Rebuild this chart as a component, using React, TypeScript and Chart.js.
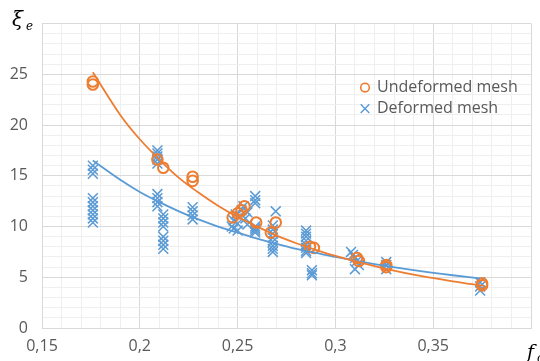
import React, { useEffect, useRef } from "react";
import { Chart, registerables } from "chart.js";

Chart.register(...registerables);

// ---- data ----
const undeformedX = [
  0.176, 0.176, 0.209, 0.212, 0.227, 0.227, 0.2475, 0.25, 0.252, 0.2535,
  0.2595, 0.267, 0.2695, 0.287, 0.289, 0.311, 0.312, 0.326, 0.326, 0.375, 0.375,
];
const undeformedY = [
  24.3, 24.0, 16.6, 15.8, 14.9, 14.5, 10.9, 11.3, 11.6, 12.0,
  10.4, 9.4, 10.4, 8.0, 7.9, 6.9, 6.6, 6.2, 6.0, 4.4, 4.2,
];

const deformedX = [
  0.176, 0.176, 0.176, 0.176, 0.176, 0.176, 0.176, 0.176, 0.176, 0.176,
  0.209, 0.209, 0.209, 0.209, 0.209, 0.209, 0.209, 0.209, 0.209,
  0.212, 0.212, 0.212, 0.212, 0.212, 0.212, 0.212, 0.212,
  0.227, 0.227, 0.227, 0.227,
  0.247, 0.248, 0.249, 0.25, 0.25, 0.251, 0.252, 0.253, 0.254, 0.255, 0.255, 0.248,
  0.259, 0.259, 0.259, 0.259, 0.259, 0.259, 0.259,
  0.2695, 0.268, 0.268, 0.268, 0.268, 0.268, 0.268, 0.268, 0.268,
  0.285, 0.285, 0.285, 0.285, 0.285, 0.285, 0.285, 0.285,
  0.288, 0.288, 0.288,
  0.308, 0.309, 0.31, 0.311, 0.312, 0.31,
  0.326, 0.326, 0.326,
  0.374, 0.374, 0.374,
];
const deformedY = [
  16.0, 15.6, 15.2, 12.8, 12.4, 12.0, 11.6, 11.2, 10.8, 10.4,
  17.5, 17.2, 16.9, 16.6, 16.2, 13.2, 12.8, 12.4, 12.0,
  11.2, 10.8, 10.4, 10.0, 9.0, 8.6, 8.2, 7.8,
  11.9, 11.5, 11.1, 10.7,
  10.0, 10.6, 11.2, 9.6, 10.3, 11.0, 11.6, 12.0, 10.8, 10.2, 11.4, 9.8,
  13.0, 12.6, 12.3, 10.0, 9.8, 9.6, 9.4,
  11.5, 10.1, 9.7, 9.3, 8.9, 8.5, 8.1, 7.8, 7.5,
  9.6, 9.3, 9.0, 8.6, 8.2, 7.9, 7.6, 7.4,
  5.7, 5.4, 5.2,
  7.5, 7.2, 6.9, 6.6, 6.2, 5.8,
  6.5, 6.2, 5.8,
  4.5, 4.1, 3.7,
];

// trendlines (power-law fits in the original)
const trendUndeformedX = [0.176, 0.19, 0.2, 0.21, 0.22, 0.23, 0.24, 0.25, 0.26, 0.27, 0.28, 0.29, 0.3, 0.32, 0.34, 0.36, 0.376];
const trendUndeformedY = [25.2, 21.0, 18.6, 16.6, 14.8, 13.35, 12.05, 10.95, 10.0, 9.1, 8.35, 7.7, 7.1, 6.1, 5.25, 4.6, 4.15];
const trendDeformedX = [0.176, 0.19, 0.2, 0.21, 0.22, 0.23, 0.24, 0.25, 0.26, 0.27, 0.28, 0.29, 0.3, 0.32, 0.34, 0.36, 0.374];
const trendDeformedY = [16.5, 14.6, 13.4, 12.4, 11.5, 10.7, 10.0, 9.4, 8.8, 8.3, 7.8, 7.4, 7.0, 6.3, 5.7, 5.2, 4.9];

const legendLabels = ["Undeformed mesh", "Deformed mesh"];
const yTitle = ["ξ", "e"];
const xTitle = ["f", "c"];

const ORANGE = "#ED7D31";
const BLUE = "#5B9BD5";
const TEXT = "#595959";

const zip = (xs: number[], ys: number[]) => xs.map((x, i) => ({ x, y: ys[i] }));

const overlayPlugin = {
  id: "overlay",
  afterDraw(chart: any) {
    const ctx = chart.ctx as CanvasRenderingContext2D;
    const area = chart.chartArea;
    ctx.save();
    // axis titles
    ctx.fillStyle = "#000";
    ctx.textBaseline = "alphabetic";
    ctx.textAlign = "left";
    ctx.font = "italic 20px 'DejaVu Serif'";
    ctx.fillText(yTitle[0], 12, 26);
    ctx.font = "italic 12px 'DejaVu Serif'";
    ctx.fillText(yTitle[1], 26, 30);
    ctx.font = "italic 19px 'DejaVu Serif'";
    ctx.fillText(xTitle[0], 527, 358);
    ctx.font = "italic 12px 'DejaVu Serif'";
    ctx.fillText(xTitle[1], 537, 362);

    // legend
    const lx = area.left + 323;
    const rows = [area.top + 64, area.top + 85];
    ctx.font = "16px 'Open Sans'";
    ctx.textBaseline = "middle";
    ctx.fillStyle = TEXT;
    ctx.strokeStyle = ORANGE;
    ctx.lineWidth = 1.6;
    ctx.beginPath();
    ctx.arc(lx, rows[0], 4.3, 0, Math.PI * 2);
    ctx.stroke();
    ctx.fillText(legendLabels[0], lx + 12, rows[0]);
    ctx.strokeStyle = BLUE;
    ctx.lineWidth = 1.4;
    const r = 4.3;
    ctx.beginPath();
    ctx.moveTo(lx - r, rows[1] - r);
    ctx.lineTo(lx + r, rows[1] + r);
    ctx.moveTo(lx + r, rows[1] - r);
    ctx.lineTo(lx - r, rows[1] + r);
    ctx.stroke();
    ctx.fillText(legendLabels[1], lx + 12, rows[1]);
    ctx.restore();
  },
};

export default function App() {
  const ref = useRef<HTMLCanvasElement | null>(null);

  useEffect(() => {
    document.body.style.margin = "0";
    const canvas = ref.current!;
    const chart = new Chart(canvas, {
      type: "scatter",
      data: {
        datasets: [
          {
            type: "line",
            label: "trend-undeformed",
            data: zip(trendUndeformedX, trendUndeformedY),
            borderColor: ORANGE,
            borderWidth: 1.8,
            pointRadius: 0,
            cubicInterpolationMode: "monotone",
            fill: false,
            order: 0,
          } as any,
          {
            type: "line",
            label: "trend-deformed",
            data: zip(trendDeformedX, trendDeformedY),
            borderColor: BLUE,
            borderWidth: 1.8,
            pointRadius: 0,
            cubicInterpolationMode: "monotone",
            fill: false,
            order: 1,
          } as any,
          {
            label: legendLabels[0],
            data: zip(undeformedX, undeformedY),
            pointStyle: "circle",
            pointRadius: 5.3,
            pointBorderWidth: 2,
            borderColor: ORANGE,
            backgroundColor: "rgba(0,0,0,0)",
            order: 2,
          },
          {
            label: legendLabels[1],
            data: zip(deformedX, deformedY),
            pointStyle: "crossRot",
            pointRadius: 7,
            pointBorderWidth: 1.5,
            borderColor: BLUE,
            backgroundColor: BLUE,
            order: 3,
          },
        ],
      },
      options: {
        responsive: false,
        animation: false,
        events: [],
        layout: { padding: { top: 21, right: 8, left: 0, bottom: 0 } },
        plugins: { legend: { display: false }, tooltip: { enabled: false } },
        scales: {
          x: {
            type: "linear",
            min: 0.15,
            max: 0.4,
            afterFit: (s: any) => { s.height = 33; },
            ticks: {
              stepSize: 0.01,
              autoSkip: false,
              maxRotation: 0,
              padding: 9,
              color: TEXT,
              font: { family: "'Open Sans'", size: 16 },
              callback: (v: any) => {
                const k = Math.round(Number(v) * 100);
                if (k % 5 !== 0 || k >= 40) return "";
                return (k / 100).toString().replace(".", ",");
              },
            },
            grid: {
              drawTicks: false,
              color: (c: any) =>
                c.tick && Math.round(c.tick.value * 100) % 5 === 0 ? "#D9D9D9" : "#EFEFEF",
            },
            border: { color: "#D9D9D9" },
          },
          y: {
            type: "linear",
            min: 0,
            max: 30,
            afterFit: (s: any) => { s.width = 42; },
            ticks: {
              stepSize: 1,
              autoSkip: false,
              padding: 14,
              color: TEXT,
              font: { family: "'Open Sans'", size: 16 },
              callback: (v: any) => {
                const k = Math.round(Number(v));
                if (k % 5 !== 0 || k >= 30) return "";
                return String(k);
              },
            },
            grid: {
              drawTicks: false,
              color: (c: any) =>
                c.tick && Math.round(c.tick.value) % 5 === 0 ? "#D9D9D9" : "#EFEFEF",
            },
            border: { color: "#D9D9D9" },
          },
        },
      },
      plugins: [overlayPlugin],
    });
    return () => chart.destroy();
  }, []);

  return <canvas ref={ref} width={540} height={361} style={{ display: "block" }} />;
}
